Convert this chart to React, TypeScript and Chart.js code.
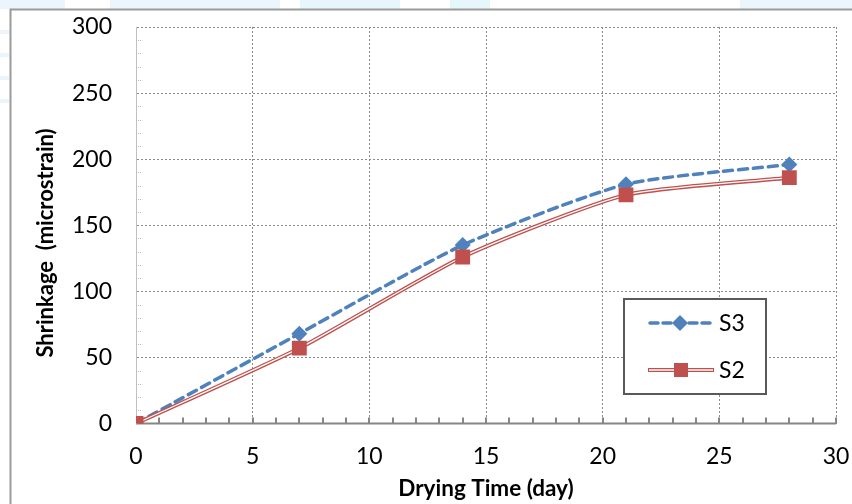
import React, { useEffect, useRef } from "react";
import { Chart, registerables } from "chart.js";

Chart.register(...registerables);

const days = [0, 7, 14, 21, 28];
const s3Values = [0, 68, 135, 181, 196];
const s2Values = [0, 57, 126, 173, 186];
const xTicks = [0, 5, 10, 15, 20, 25, 30];
const yTicks = [0, 50, 100, 150, 200, 250, 300];
const seriesNames = ["S3", "S2"];
const yTitle = "Shrinkage  (microstrain)";
const xTitle = "Drying Time (day)";

const BLUE = "#4F81BD";
const RED = "#C0504D";
const FONT = "Lato, 'Open Sans', sans-serif";
const TENSION = 0.2;

function pts(vals: number[]) {
  return days.map((d, i) => ({ x: d, y: vals[i] }));
}

const decorPlugin = {
  id: "decor",
  beforeDraw(chart: any) {
    const ctx = chart.ctx;
    ctx.save();
    ctx.fillStyle = "#ffffff";
    ctx.fillRect(0, 0, chart.width, chart.height);
    ctx.fillStyle = "#edf5fc";
    ctx.fillRect(0, 0, 65, 9);
    ctx.fillRect(110, 0, 170, 9);
    ctx.fillStyle = "#e6f7fc";
    ctx.fillRect(300, 0, 100, 9);
    ctx.fillRect(450, 0, 40, 9);
    ctx.fillStyle = "#edf5fc";
    ctx.fillRect(740, 0, 112, 9);
    ctx.fillRect(0, 30, 9, 4);
    ctx.fillRect(0, 53, 9, 4);
    ctx.fillRect(0, 76, 9, 4);
    ctx.fillRect(0, 99, 9, 4);
    ctx.strokeStyle = "#9a9a9a";
    ctx.lineWidth = 2;
    ctx.beginPath();
    ctx.moveTo(10.5, 504);
    ctx.lineTo(10.5, 9.5);
    ctx.lineTo(852, 9.5);
    ctx.stroke();
    ctx.restore();
  },
  beforeDatasetsDraw(chart: any) {
    const ctx = chart.ctx;
    const xs = chart.scales.x;
    const ys = chart.scales.y;
    const y0 = ys.getPixelForValue(0);
    const x0 = xs.getPixelForValue(0);
    ctx.save();
    ctx.strokeStyle = "#b8b8b8";
    ctx.lineWidth = 1;
    ctx.setLineDash([1, 1]);
    for (let v = 10; v < 300; v += 10) {
      if (v % 50 === 0) continue;
      const py = Math.round(ys.getPixelForValue(v)) + 0.5;
      ctx.beginPath();
      ctx.moveTo(x0, py);
      ctx.lineTo(x0 + 6, py);
      ctx.stroke();
    }
    ctx.setLineDash([]);
    ctx.strokeStyle = "#868686";
    ctx.lineWidth = 2;
    ctx.beginPath();
    ctx.moveTo(x0, y0);
    ctx.lineTo(xs.getPixelForValue(30), y0);
    ctx.stroke();
    for (let v = 1; v <= 30; v++) {
      const px = Math.round(xs.getPixelForValue(v));
      ctx.beginPath();
      ctx.moveTo(px, y0);
      ctx.lineTo(px, y0 - 6);
      ctx.stroke();
    }
    ctx.restore();
  },
  afterDraw(chart: any) {
    const ctx = chart.ctx;
    ctx.save();
    // y axis title
    ctx.save();
    ctx.translate(46, 243);
    ctx.rotate(-Math.PI / 2);
    ctx.fillStyle = "#000";
    ctx.font = "bold 22px " + FONT;
    ctx.textAlign = "center";
    ctx.textBaseline = "middle";
    ctx.fillText(yTitle, 0, 0);
    ctx.restore();
    // legend
    ctx.fillStyle = "#ffffff";
    ctx.fillRect(624, 299, 142, 95);
    ctx.strokeStyle = "#595959";
    ctx.lineWidth = 2;
    ctx.strokeRect(624, 299, 142, 95);
    const yA = 323;
    ctx.strokeStyle = BLUE;
    ctx.lineWidth = 3.5;
    ctx.setLineDash([8, 5]);
    ctx.lineCap = "round";
    ctx.beginPath();
    ctx.moveTo(650, yA);
    ctx.lineTo(713, yA);
    ctx.stroke();
    ctx.setLineDash([]);
    ctx.lineCap = "butt";
    ctx.fillStyle = BLUE;
    ctx.beginPath();
    ctx.moveTo(680, yA - 8);
    ctx.lineTo(688, yA);
    ctx.lineTo(680, yA + 8);
    ctx.lineTo(672, yA);
    ctx.closePath();
    ctx.fill();
    const yB = 370;
    ctx.strokeStyle = RED;
    ctx.lineWidth = 4;
    ctx.beginPath();
    ctx.moveTo(648, yB);
    ctx.lineTo(714, yB);
    ctx.stroke();
    ctx.strokeStyle = "#ffffff";
    ctx.lineWidth = 1.5;
    ctx.beginPath();
    ctx.moveTo(649, yB);
    ctx.lineTo(713, yB);
    ctx.stroke();
    ctx.fillStyle = RED;
    ctx.fillRect(674, yB - 7, 14, 14);
    ctx.fillStyle = "#000000";
    ctx.font = "23px " + FONT;
    ctx.textBaseline = "middle";
    ctx.textAlign = "left";
    ctx.fillText(seriesNames[0], 719, yA + 1);
    ctx.fillText(seriesNames[1], 719, yB + 1);
    ctx.restore();
  },
};

function zeroPad(s: any) {
  s.paddingTop = 0;
  s.paddingBottom = 0;
  s.paddingLeft = 0;
  s.paddingRight = 0;
}

export default function App() {
  const ref = useRef<HTMLCanvasElement | null>(null);
  useEffect(() => {
    document.body.style.margin = "0";
    const canvas = ref.current!;
    const chart = new Chart(canvas, {
      type: "line",
      data: {
        datasets: [
          {
            label: seriesNames[0],
            data: pts(s3Values),
            borderColor: BLUE,
            backgroundColor: BLUE,
            borderWidth: 3.5,
            borderDash: [9, 6],
            borderCapStyle: "round",
            tension: TENSION,
            pointStyle: "rectRot",
            pointRadius: 8,
            pointBorderWidth: 0,
            pointBackgroundColor: BLUE,
            order: 4,
          },
          {
            label: seriesNames[1],
            data: pts(s2Values),
            borderColor: RED,
            borderWidth: 4,
            tension: TENSION,
            pointRadius: 0,
            order: 3,
          },
          {
            label: "s2inner",
            data: pts(s2Values),
            borderColor: "#ffffff",
            borderWidth: 1.3,
            tension: TENSION,
            pointRadius: 0,
            order: 2,
          },
          {
            label: "s2markers",
            data: pts(s2Values),
            showLine: false,
            pointStyle: "rect",
            pointRadius: 10.5,
            pointBorderWidth: 0,
            pointBackgroundColor: RED,
            backgroundColor: RED,
            borderColor: RED,
            order: 1,
          },
        ],
      } as any,
      options: {
        responsive: false,
        animation: false,
        layout: { padding: { left: 0, right: 16, top: 27, bottom: 0 } },
        plugins: { legend: { display: false }, tooltip: { enabled: false } },
        scales: {
          x: {
            type: "linear",
            min: 0,
            max: 30,
            afterBuildTicks: (s: any) => {
              s.ticks = xTicks.map((v) => ({ value: v }));
            },
            afterFit: (s: any) => {
              s.height = 80.5;
              zeroPad(s);
            },
            grid: {
              color: (c: any) => (c.tick && c.tick.value === 0 ? "rgba(0,0,0,0)" : "#8a8a8a"),
              lineWidth: 1,
              drawTicks: false,
            },
            border: { display: false, dash: [2, 2] },
            ticks: {
              padding: 19,
              color: "#000",
              font: { family: FONT, size: 23 },
              maxRotation: 0,
              autoSkip: false,
            },
            title: {
              display: true,
              text: xTitle,
              color: "#000",
              font: { family: FONT, size: 22.5, weight: "bold" },
              padding: { top: 0, bottom: 2 },
            },
          },
          y: {
            type: "linear",
            min: 0,
            max: 300,
            afterBuildTicks: (s: any) => {
              s.ticks = yTicks.map((v) => ({ value: v }));
            },
            afterFit: (s: any) => {
              s.width = 136;
              zeroPad(s);
            },
            grid: {
              color: (c: any) => (c.tick && c.tick.value === 0 ? "rgba(0,0,0,0)" : "#8a8a8a"),
              lineWidth: 1,
              drawTicks: false,
            },
            border: { display: true, color: "#c0c0c0", width: 1, dash: [2, 2] },
            ticks: {
              padding: 24,
              color: "#000",
              font: { family: FONT, size: 23 },
              autoSkip: false,
            },
            title: { display: false },
          },
        },
      } as any,
      plugins: [decorPlugin],
    });
    return () => chart.destroy();
  }, []);
  return <canvas ref={ref} width={852} height={504} style={{ display: "block", width: 852, height: 504 }} />;
}
